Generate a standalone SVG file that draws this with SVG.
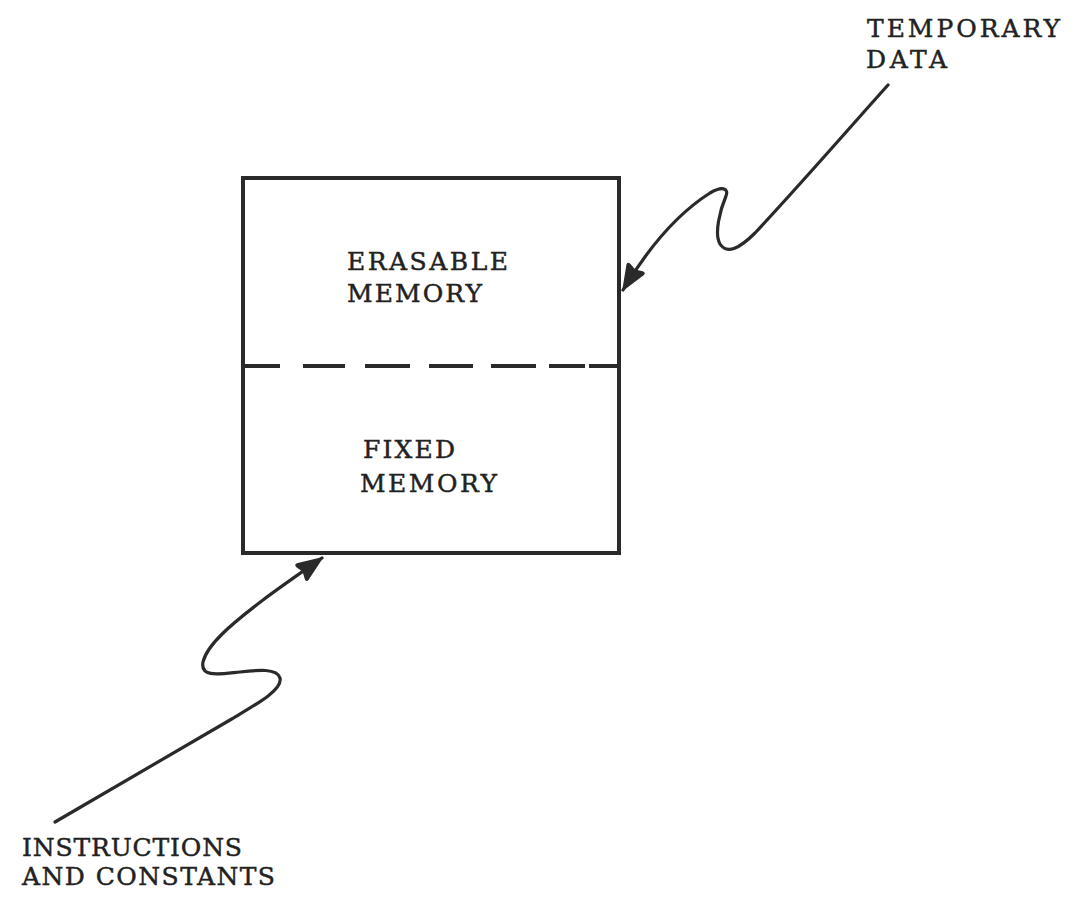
<svg xmlns="http://www.w3.org/2000/svg" width="1078" height="899" viewBox="0 0 1078 899">
  <style>
    .lbl { font-family: "DejaVu Serif", "Liberation Serif", serif; font-size: 25px; fill: #222; stroke: #222; stroke-width: 0.45; }
    .box { fill: none; stroke: #2a2a2a; stroke-width: 4; }
    .div { fill: none; stroke: #2a2a2a; stroke-width: 4; }
    .wire { fill: none; stroke: #2a2a2a; stroke-width: 3.2; stroke-linecap: round; stroke-linejoin: round; }
  </style>
  <defs>
    <marker id="head" markerUnits="userSpaceOnUse" markerWidth="34" markerHeight="24" refX="27" refY="12" orient="auto" viewBox="0 0 34 24">
      <path d="M27,12 L3,2.5 Q1,2 1.5,4.5 L4,12 L1.5,19.5 Q1,22 3,21.5 Z" fill="#2a2a2a" stroke="#2a2a2a" stroke-width="1.5" stroke-linejoin="round"/>
    </marker>
  </defs>
  <rect width="1078" height="899" fill="#ffffff"/>

  <g id="memory">
    <rect class="box" x="243" y="178" width="376" height="375"/>
    <path class="div" d="M243,366H280 M303,366H345 M365,366H410 M429,366H473 M491,366H536 M549,366H585 M589,366H619"/>
  </g>

  <g id="erasable">
    <text class="lbl" x="347" y="270" textLength="161" lengthAdjust="spacing">ERASABLE</text>
    <text class="lbl" x="347" y="302" textLength="135" lengthAdjust="spacing">MEMORY</text>
  </g>

  <g id="fixed">
    <text class="lbl" x="363" y="458" textLength="92" lengthAdjust="spacing">FIXED</text>
    <text class="lbl" x="360" y="492" textLength="137" lengthAdjust="spacing">MEMORY</text>
  </g>

  <g id="temporary-data">
    <text class="lbl" x="867" y="37" textLength="193" lengthAdjust="spacing">TEMPORARY</text>
    <text class="lbl" x="866" y="68" textLength="81" lengthAdjust="spacing">DATA</text>
  </g>

  <g id="instructions">
    <text class="lbl" x="22" y="856" textLength="220" lengthAdjust="spacing">INSTRUCTIONS</text>
    <text class="lbl" x="22" y="885" textLength="253" lengthAdjust="spacing">AND CONSTANTS</text>
  </g>

  <g id="connectors">
    <path class="wire" marker-end="url(#head)" d="M888,85 C860,116 800,185 755,233 C740,248 727,255 720,244 C714,234 720,210 726,196 C729,188 722,186 710,193 C680,212 650,245 623,290"/>
    <path class="wire" marker-end="url(#head)" d="M55,822 L230,720 C255,705 283,690 280,678 C277,668 258,670 240,672 C220,674 200,678 203,662 C207,645 230,625 263,600 C283,585 305,570 322,558"/>
  </g>
</svg>
